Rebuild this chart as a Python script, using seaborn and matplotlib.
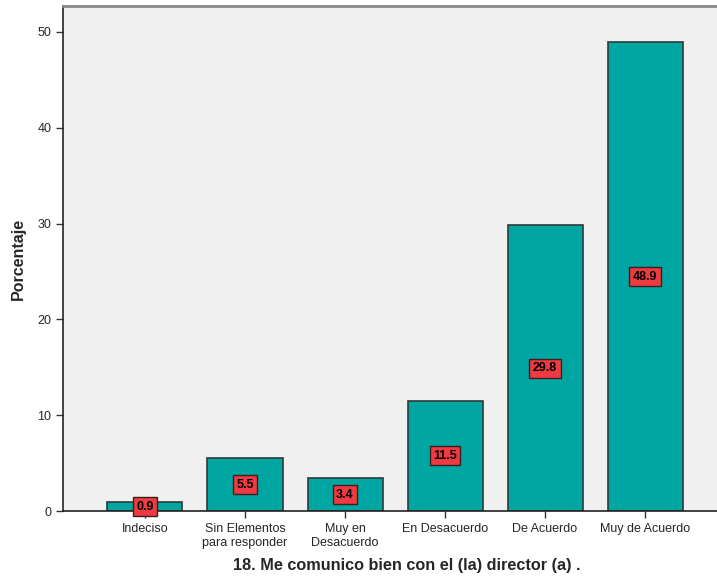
import matplotlib
matplotlib.use('Agg')
import matplotlib.pyplot as plt
import seaborn as sns
import pandas as pd

categorias = ['Indeciso', 'Sin Elementos\npara responder', 'Muy en\nDesacuerdo',
              'En Desacuerdo', 'De Acuerdo', 'Muy de Acuerdo']
porcentajes = [0.9, 5.5, 3.4, 11.5, 29.8, 48.9]
etiquetas = ['0.9', '5.5', '3.4', '11.5', '29.8', '48.9']
y_ticks = [0, 10, 20, 30, 40, 50]

df = pd.DataFrame({'Categoria': categorias, 'Porcentaje': porcentajes})

sns.set_style('white')
plt.rcParams['font.family'] = ['Liberation Sans', 'DejaVu Sans']

fig = plt.figure(figsize=(7.17, 5.8), dpi=100)
ax = fig.add_axes([63 / 717, 69 / 580, 654 / 717, 505 / 580])
ax.set_facecolor('#F0F0F0')

sns.barplot(data=df, x='Categoria', y='Porcentaje', color='#00A6A1',
            saturation=1, width=0.75, edgecolor='#2E3A3A', linewidth=1.2, ax=ax)

# etiquetas rojas al centro de cada barra
for i, (v, t) in enumerate(zip(porcentajes, etiquetas)):
    ax.text(i, v / 2, t, ha='center', va='center', fontsize=9, fontweight='bold',
            color='black',
            bbox=dict(boxstyle='square,pad=0.28', facecolor='#EE3A40',
                      edgecolor='#3A2020', linewidth=1))

ax.set_xlim(-0.82, 5.72)
ax.set_ylim(0, 52.7)
ax.set_yticks(y_ticks)
ax.tick_params(axis='both', labelsize=9, length=5, width=1, color='#333333',
               direction='out', left=True, bottom=True)
ax.set_ylabel('Porcentaje', fontsize=11.5, fontweight='bold', labelpad=8)
ax.set_xlabel('18. Me comunico bien con el (la) director (a) .', fontsize=11.7,
              fontweight='bold')
ax.xaxis.set_label_coords(0.526, -0.093)

for s in ['left', 'bottom']:
    ax.spines[s].set_color('#222222')
    ax.spines[s].set_linewidth(1.2)
ax.spines['top'].set_color('#888888')
ax.spines['top'].set_linewidth(2)
ax.spines['right'].set_visible(False)

fig.savefig('out.png', dpi=100, facecolor='white')
